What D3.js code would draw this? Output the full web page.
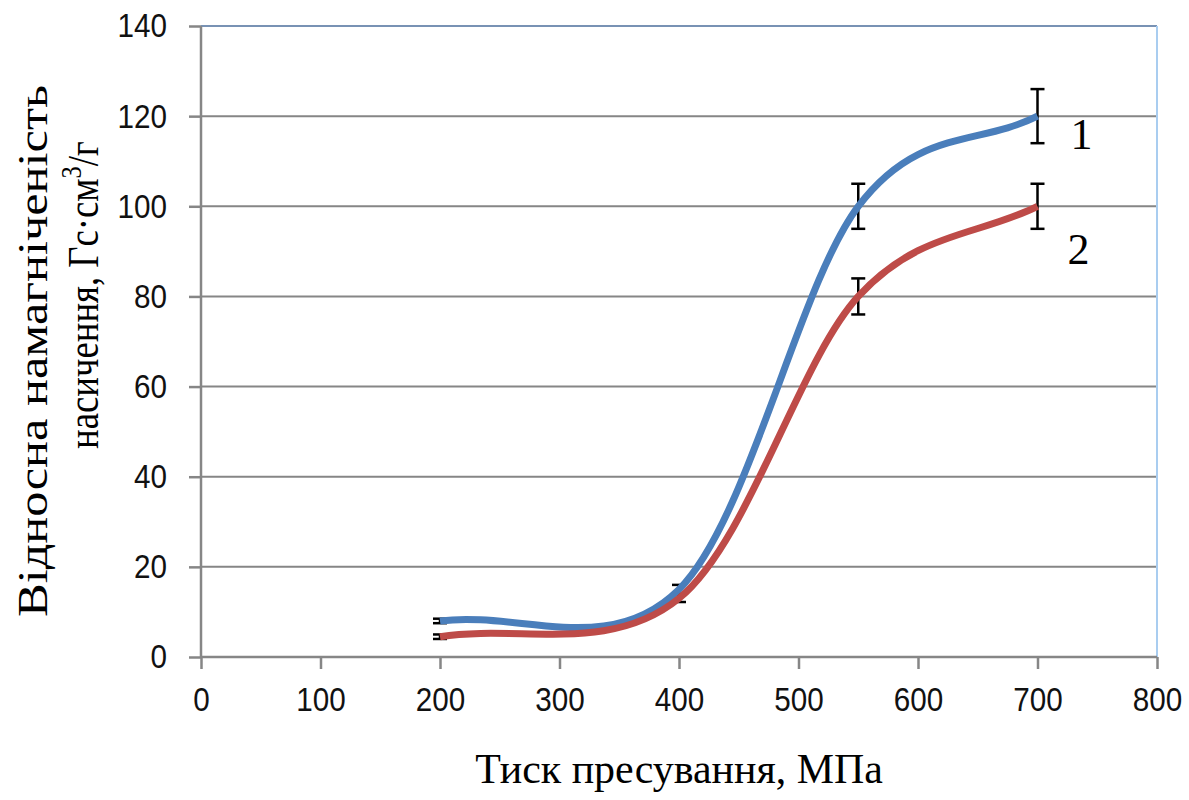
<!DOCTYPE html>
<html>
<head>
<meta charset="utf-8">
<script src="https://cdn.jsdelivr.net/npm/d3@7"></script>
<style>
  html, body { margin: 0; padding: 0; background: #fff; }
  svg { display: block; }
</style>
</head>
<body>
<svg id="chart" width="1189" height="800"></svg>
<script>
// Pressing pressure, MPa
const pressure = [200, 400, 550, 700];
// Relative saturation magnetization, curve 1 and curve 2
const series1 = [8, 15, 100, 120];
const series2 = [4.5, 13, 80, 100];
// Error bar half-widths
const err1 = [0.5, 1, 5, 6];
const err2 = [0.5, 0.8, 4, 5];
const xTicks = [0, 100, 200, 300, 400, 500, 600, 700, 800];
const yTicks = [0, 20, 40, 60, 80, 100, 120, 140];
const seriesNames = ["1", "2"];

const svg = d3.select("#chart");
const x = d3.scaleLinear().domain([0, 800]).range([201, 1157]);
const y = d3.scaleLinear().domain([0, 140]).range([657, 26]);

const gridColor = "#868686";

// Horizontal gridlines
svg.append("g").selectAll("line").data(yTicks.filter(d => d > 0 && d < 140)).join("line")
  .attr("x1", x(0)).attr("x2", x(800))
  .attr("y1", d => y(d)).attr("y2", d => y(d))
  .attr("stroke", gridColor).attr("stroke-width", 2);

// Plot area border: top and right
svg.append("line").attr("x1", x(0)).attr("x2", x(800)).attr("y1", y(140)).attr("y2", y(140))
  .attr("stroke", "#7892b4").attr("stroke-width", 2);
svg.append("line").attr("x1", x(800)).attr("x2", x(800)).attr("y1", y(140)).attr("y2", y(0))
  .attr("stroke", "#a9cdf0").attr("stroke-width", 2);

// Axes
const tickFont = "'Liberation Sans', Arial, sans-serif";
const xAxis = svg.append("g").attr("transform", `translate(0,${y(0)})`)
  .call(d3.axisBottom(x).tickValues(xTicks).tickSize(12).tickPadding(28).tickFormat(d3.format("d")));
const yAxis = svg.append("g").attr("transform", `translate(${x(0)},0)`)
  .call(d3.axisLeft(y).tickValues(yTicks).tickSize(12).tickPadding(34).tickFormat(d3.format("d")));

[xAxis, yAxis].forEach(g => {
  g.select(".domain").attr("stroke", gridColor).attr("stroke-width", 2.5);
  g.selectAll(".tick line").attr("stroke", gridColor).attr("stroke-width", 2.5);
  g.selectAll(".tick text")
    .attr("font-family", tickFont).attr("font-size", 34).attr("fill", "#111")
    .attr("textLength", d => String(d).length * 16.5)
    .attr("lengthAdjust", "spacingAndGlyphs");
});
xAxis.select(".domain").attr("d", `M${x(0)},0H${x(800)}`);
yAxis.select(".domain").attr("d", `M0,${y(0)}V${y(140)}`);
xAxis.selectAll(".tick text").attr("dy", "0.71em").attr("y", 30);
yAxis.selectAll(".tick text").attr("x", -34);

// Error bars
const bars = [];
pressure.forEach((p, i) => {
  bars.push({ p, v: series1[i], e: err1[i] });
  bars.push({ p, v: series2[i], e: err2[i] });
});
const eg = svg.append("g").attr("stroke", "#000").attr("stroke-width", 2.5);
bars.forEach(b => {
  eg.append("line").attr("x1", x(b.p)).attr("x2", x(b.p)).attr("y1", y(b.v - b.e)).attr("y2", y(b.v + b.e));
  [b.v - b.e, b.v + b.e].forEach(v => {
    eg.append("line").attr("x1", x(b.p) - 7).attr("x2", x(b.p) + 7).attr("y1", y(v)).attr("y2", y(v));
  });
});

// Smoothed line: Catmull-Rom tangents, end tangents taken from
// points reflected beyond the first and last samples.
function smoothPath(pts) {
  const n = pts.length;
  const at = i => {
    if (i < 0) return [2 * pts[0][0] - pts[1][0], 2 * pts[0][1] - pts[1][1]];
    if (i >= n) return [2 * pts[n - 1][0] - pts[n - 2][0], 2 * pts[n - 1][1] - pts[n - 2][1]];
    return pts[i];
  };
  const tan = pts.map((p, i) => {
    const a = at(i - 1), b = at(i + 1);
    return [(b[0] - a[0]) / 6, (b[1] - a[1]) / 6];
  });
  const path = d3.path();
  path.moveTo(pts[0][0], pts[0][1]);
  for (let i = 0; i < n - 1; i++) {
    const p0 = pts[i], p1 = pts[i + 1], t0 = tan[i], t1 = tan[i + 1];
    path.bezierCurveTo(p0[0] + t0[0], p0[1] + t0[1], p1[0] - t1[0], p1[1] - t1[1], p1[0], p1[1]);
  }
  return path.toString();
}

const colors = ["#4a7ebb", "#be4b48"];
[series1, series2].forEach((s, k) => {
  svg.append("path")
    .attr("d", smoothPath(pressure.map((p, i) => [x(p), y(s[i])])))
    .attr("fill", "none")
    .attr("stroke", colors[k])
    .attr("stroke-width", 7)
    .attr("stroke-linejoin", "round");
});

// Curve labels
const serif = "'Liberation Serif', 'Times New Roman', serif";
svg.append("text").attr("x", x(700) + 33).attr("y", y(series1[3]) + 33)
  .attr("font-family", serif).attr("font-size", 44).attr("fill", "#000").text(seriesNames[0]);
svg.append("text").attr("x", x(700) + 30).attr("y", y(series2[3]) + 58)
  .attr("font-family", serif).attr("font-size", 44).attr("fill", "#000").text(seriesNames[1]);

// Scale factor that brings a text element to a target length
function fit(sel, target) {
  const w = sel.node().getBBox().width;
  return target / w;
}

// X axis title
const xt = svg.append("text").attr("text-anchor", "middle")
  .attr("font-family", serif).attr("font-size", 42).attr("fill", "#000")
  .text("Тиск пресування, МПа");
const kx = fit(xt, 408);
xt.attr("transform", `translate(679,783) scale(${kx},1)`);

// Y axis title, two lines
const yt1 = svg.append("text").attr("text-anchor", "middle")
  .attr("font-family", serif).attr("font-size", 42).attr("fill", "#000")
  .text("Відносна намагніченість");
const k1 = fit(yt1, 532);
yt1.attr("transform", `translate(47,351) rotate(-90) scale(${k1},1)`);

const yt2 = svg.append("text").attr("text-anchor", "middle")
  .attr("font-family", serif).attr("font-size", 44).attr("fill", "#000");
yt2.append("tspan").text("насичення, Гс·см");
yt2.append("tspan").attr("font-size", 29).attr("dy", -17).text("3");
yt2.append("tspan").attr("dy", 17).text("/г");
const k2 = fit(yt2, 308);
yt2.attr("transform", `translate(98,295) rotate(-90) scale(${k2},1)`);
</script>
</body>
</html>
